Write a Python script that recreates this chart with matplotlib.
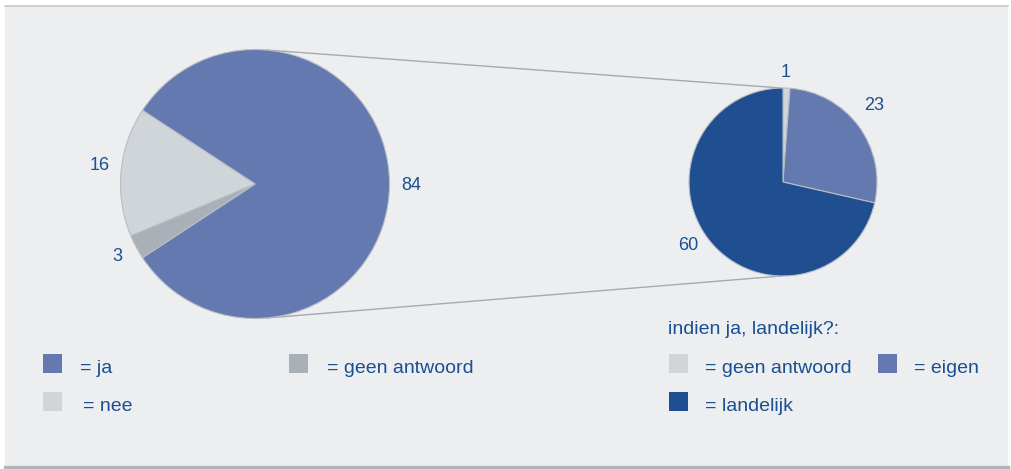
import numpy as np
import matplotlib
matplotlib.use("Agg")
import matplotlib.pyplot as plt
from matplotlib.patches import Rectangle

plt.rcParams['font.family'] = ['Liberation Sans', 'DejaVu Sans']

# Main question
main_labels = ["ja", "nee", "geen antwoord"]
main_values = [84, 16, 3]
main_colors = ["#6479b0", "#d0d5da", "#a9b0b7"]

# Follow-up for "ja": landelijk?
sub_labels = ["geen antwoord", "eigen", "landelijk"]
sub_values = [1, 23, 60]
sub_colors = ["#d0d5da", "#6479b0", "#1f4f91"]
sub_title = "indien ja, landelijk?:"

W, H = 1012, 469
TEXT = "#1a4f93"
EDGE = "#b9bec4"

fig = plt.figure(figsize=(W / 100, H / 100), dpi=100, facecolor="white")
ax = fig.add_axes([0, 0, 1, 1])
ax.set_xlim(0, W)
ax.set_ylim(0, H)
ax.axis("off")


def Y(py):
    return H - py


# panel background and rules
ax.add_patch(Rectangle((5, Y(467)), 1003, 461, facecolor="#edeef0",
                       edgecolor="none", zorder=0))
ax.plot([5, 1008], [Y(6), Y(6)], color="#c6c9cd", lw=1.2, zorder=1)
ax.plot([5, 1008], [Y(467.5), Y(467.5)], color="#b0b4b8", lw=2.4, zorder=1)

# big pie
c1, r1 = (255, Y(184)), 134.5
start1 = -main_values[0] / sum(main_values) * 180
ax.pie(main_values, colors=main_colors, center=c1, radius=r1,
       startangle=start1, counterclock=True,
       wedgeprops=dict(edgecolor=EDGE, linewidth=0.8))

# small pie
c2, r2 = (783, Y(182)), 94
ax.pie(sub_values, colors=sub_colors, center=c2, radius=r2,
       startangle=90, counterclock=False,
       wedgeprops=dict(edgecolor=EDGE, linewidth=0.8))

ax.set_xlim(0, W)
ax.set_ylim(0, H)
ax.set_aspect("equal")
ax.axis("off")

# connecting lines between the two pies
for sgn in (1, -1):
    a1 = np.deg2rad(sgn * 85)
    a2 = np.deg2rad(sgn * 91)
    ax.plot([c1[0] + r1 * np.cos(a1), c2[0] + r2 * np.cos(a2)],
            [c1[1] + r1 * np.sin(a1), c2[1] + r2 * np.sin(a2)],
            color="#a3aab1", lw=1.0, zorder=0.5)


def value_labels(values, center, radius, start, ccw, dists, shifts):
    total = sum(values)
    acc = 0
    for v, d, s in zip(values, dists, shifts):
        mid = acc + v / 2
        ang = start + (mid / total * 360 if ccw else -mid / total * 360) + s
        acc += v
        a = np.deg2rad(ang)
        ax.text(center[0] + d * radius * np.cos(a),
                center[1] + d * radius * np.sin(a),
                str(v), ha="center", va="center", fontsize=13, color=TEXT)


value_labels(main_values, c1, r1, start1, True,
             [1.16, 1.16, 1.156], [-0.5, -1.4, 0.0])
value_labels(sub_values, c2, r2, 90, False,
             [1.17, 1.265, 1.21], [1.0, 3.6, -4.6])

# legends
SQ = 19


def legend_item(x_sq, y_top, color, x_txt, label):
    ax.add_patch(Rectangle((x_sq, Y(y_top + SQ)), SQ, SQ, facecolor=color,
                           edgecolor="none"))
    ax.text(x_txt, Y(y_top + SQ), "= " + label, ha="left", va="baseline",
            fontsize=14, color=TEXT)


legend_item(43, 354, main_colors[0], 80, main_labels[0])
legend_item(43, 392, main_colors[1], 83, main_labels[1])
legend_item(289, 354, main_colors[2], 327, main_labels[2])

ax.text(668, Y(333.5), sub_title, ha="left", va="baseline", fontsize=14,
        color=TEXT)
legend_item(669, 354, sub_colors[0], 705, sub_labels[0])
legend_item(878, 354, sub_colors[1], 914, sub_labels[1])
legend_item(669, 392, sub_colors[2], 705, sub_labels[2])

fig.savefig("out.png", dpi=100, facecolor="white")
